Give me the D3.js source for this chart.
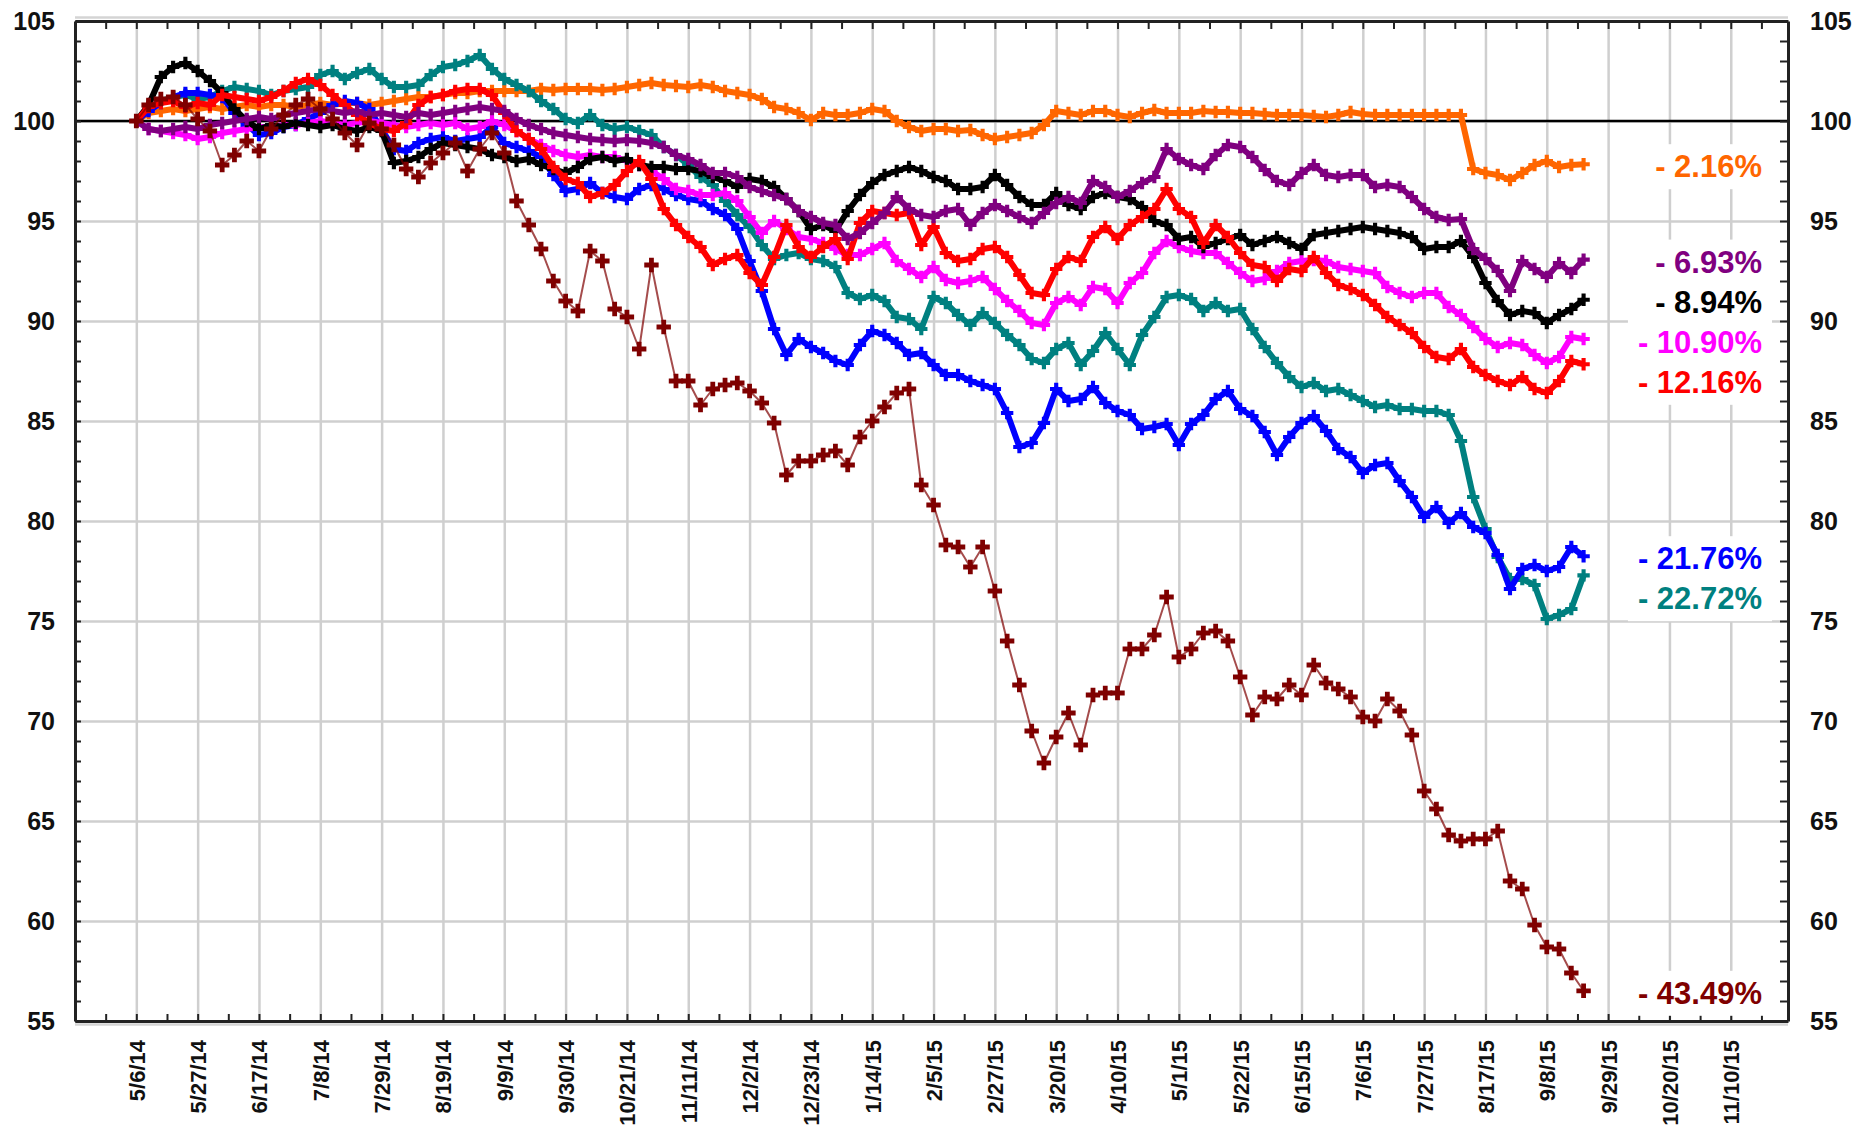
<!DOCTYPE html>
<meta charset="utf-8">
<script src="https://d3js.org/d3.v7.min.js"></script>
<style>
body { margin: 0; background: #fff; }
text { font-family: "Liberation Sans", Arial, sans-serif; }
.grid line { stroke: #cfcfcf; stroke-width: 2.5; }
.grid path { stroke-width: 0; }
.ticks line { stroke: #222; stroke-width: 2; }
.ticks path { stroke: #222; stroke-width: 3; }
.lbl path { stroke-width: 0; }
.lbl text { font-size: 25px; font-weight: bold; fill: #111; }
.dates text { font-size: 22px; font-weight: bold; fill: #111; }
</style>
<div id="chart"></div>
<script>

// x axis: one label every 15 trading days
var dateLabels = ["5/6/14","5/27/14","6/17/14","7/8/14","7/29/14","8/19/14","9/9/14","9/30/14",
  "10/21/14","11/11/14","12/2/14","12/23/14","1/14/15","2/5/15","2/27/15","3/20/15","4/10/15",
  "5/1/15","5/22/15","6/15/15","7/6/15","7/27/15","8/17/15","9/8/15","9/29/15","10/20/15","11/10/15"];
var yLabels = [55, 60, 65, 70, 75, 80, 85, 90, 95, 100, 105];

// values, one every 3 trading days (day 0 = 5/6/14)
var step = 3;

var orange = [
 100.0, 100.4, 100.5, 100.6, 100.5, 100.6, 100.7, 100.6, 100.7, 100.8,
 100.7, 100.8, 100.8, 100.7, 100.8, 100.9, 100.8, 100.9, 100.9, 100.8,
 100.9, 101.0, 101.1, 101.2, 101.2, 101.3, 101.4, 101.4, 101.5, 101.5,
 101.5, 101.5, 101.5, 101.6, 101.55, 101.6, 101.6, 101.6, 101.55, 101.6,
 101.7, 101.8, 101.9, 101.8, 101.75, 101.7, 101.8, 101.7, 101.5, 101.4,
 101.3, 101.1, 100.7, 100.6, 100.4, 100.05, 100.4, 100.3, 100.3, 100.4,
 100.6, 100.5, 100.0, 99.7, 99.5, 99.6, 99.6, 99.5, 99.55, 99.3,
 99.1, 99.2, 99.3, 99.4, 99.8, 100.5, 100.4, 100.3, 100.5, 100.5,
 100.3, 100.2, 100.4, 100.55, 100.4, 100.4, 100.4, 100.5, 100.45, 100.45,
 100.4, 100.4, 100.35, 100.3, 100.3, 100.3, 100.25, 100.2, 100.3, 100.45,
 100.35, 100.3, 100.3, 100.3, 100.3, 100.3, 100.3, 100.3, 100.3, 97.6,
 97.4, 97.3, 97.05, 97.4, 97.8, 98.0, 97.7, 97.8, 97.84
];

var teal = [
 100.0, 100.6, 101.0, 101.2, 101.3, 101.1, 101.2, 101.5, 101.7, 101.6,
 101.5, 101.3, 101.5, 101.6, 101.7, 102.3, 102.5, 102.1, 102.4, 102.6,
 102.1, 101.7, 101.7, 101.8, 102.3, 102.7, 102.8, 103.0, 103.3, 102.6,
 102.1, 101.8, 101.5, 101.0, 100.6, 100.1, 99.9, 100.3, 99.8, 99.6,
 99.7, 99.5, 99.3, 98.7, 98.3, 97.8, 97.2, 96.8, 96.0, 95.3,
 94.7, 93.8, 93.1, 93.3, 93.4, 93.1, 93.0, 92.7, 91.4, 91.1,
 91.3, 91.0, 90.2, 90.1, 89.6, 91.2, 90.9, 90.3, 89.8, 90.4,
 89.9, 89.3, 88.8, 88.1, 87.9, 88.6, 88.9, 87.8, 88.5, 89.4,
 88.6, 87.8, 89.3, 90.2, 91.2, 91.3, 91.1, 90.5, 90.9, 90.5,
 90.6, 89.6, 88.7, 87.9, 87.2, 86.7, 86.9, 86.5, 86.6, 86.3,
 86.0, 85.7, 85.8, 85.6, 85.6, 85.5, 85.5, 85.3, 84.0, 81.2,
 79.6, 78.2, 77.1, 77.1, 76.8, 75.1, 75.3, 75.6, 77.28
];

var blue = [
 100.0, 100.5, 100.9, 101.2, 101.4, 101.4, 101.3, 101.2, 100.4, 99.8,
 99.3, 99.4, 99.7, 99.8, 100.1, 100.4, 100.8, 101.0, 100.9, 100.6,
 99.6, 98.6, 98.5, 98.9, 99.1, 99.2, 99.0, 99.1, 99.2, 99.7,
 98.9, 98.7, 98.5, 98.2, 97.3, 96.5, 96.6, 96.9, 96.4, 96.2,
 96.1, 96.6, 96.8, 96.6, 96.3, 96.1, 96.0, 95.6, 95.3, 94.6,
 93.0, 91.5, 89.6, 88.3, 89.1, 88.7, 88.4, 88.0, 87.8, 88.8,
 89.5, 89.3, 88.9, 88.3, 88.4, 87.8, 87.3, 87.3, 87.0, 86.8,
 86.6, 85.4, 83.7, 83.9, 84.9, 86.6, 86.0, 86.1, 86.7, 85.9,
 85.5, 85.3, 84.6, 84.7, 84.85, 83.8, 84.85, 85.3, 86.1, 86.5,
 85.6, 85.25, 84.45, 83.3, 84.2, 84.9, 85.25, 84.5, 83.6, 83.2,
 82.4, 82.8, 82.9, 82.0, 81.2, 80.2, 80.7, 79.9, 80.4, 79.7,
 79.4, 78.3, 76.6, 77.6, 77.8, 77.5, 77.7, 78.7, 78.24
];

var magenta = [
 100.0, 99.6, 99.5, 99.4, 99.3, 99.1, 99.2, 99.4, 99.5, 99.6,
 99.7, 99.7, 99.8, 99.8, 99.9, 100.0, 99.9, 99.8, 99.9, 100.0,
 99.9, 99.8, 99.7, 99.8, 99.9, 99.8, 99.9, 99.6, 99.7, 100.0,
 99.8, 99.5, 99.1, 98.8, 98.5, 98.3, 98.2, 98.3, 98.2, 98.2,
 98.0, 97.8, 97.5, 97.1, 96.6, 96.5, 96.3, 96.3, 96.4, 96.0,
 95.2, 94.4, 95.0, 94.6, 94.2, 94.1, 93.9, 93.6, 93.3, 93.3,
 93.6, 93.9, 93.0, 92.6, 92.2, 92.7, 92.05, 91.9, 92.0, 92.2,
 91.6, 91.0, 90.5, 89.9, 89.8, 90.9, 91.2, 90.8, 91.7, 91.6,
 90.9, 91.9, 92.4, 93.4, 94.0, 93.7, 93.5, 93.4, 93.4, 92.9,
 92.4, 92.0, 92.1, 92.5, 92.9, 93.0, 93.05, 93.0, 92.7, 92.6,
 92.5, 92.4, 91.7, 91.4, 91.2, 91.4, 91.4, 90.7, 90.3, 89.7,
 89.1, 88.7, 88.9, 88.8, 88.3, 87.9, 88.2, 89.2, 89.1
];

var black = [
 100.0, 100.8, 102.2, 102.7, 102.9, 102.5, 102.0, 101.4, 100.6, 100.0,
 99.6, 99.8, 99.7, 99.9, 99.8, 99.7, 99.8, 99.6, 99.5, 99.7,
 99.5, 97.9, 98.0, 98.2, 98.6, 98.9, 98.8, 98.7, 98.6, 98.3,
 98.2, 98.0, 98.1, 97.8, 97.6, 97.4, 97.7, 98.1, 98.2, 98.0,
 98.1, 97.8, 97.7, 97.7, 97.6, 97.6, 97.5, 97.2, 97.0, 96.7,
 97.1, 97.0, 96.7, 96.1, 95.5, 94.6, 94.8, 94.5, 95.5, 96.3,
 96.9, 97.3, 97.5, 97.7, 97.5, 97.2, 97.0, 96.6, 96.6, 96.7,
 97.3, 96.8, 96.2, 95.8, 95.8, 96.4, 95.8, 95.6, 96.2, 96.4,
 96.2, 96.1, 95.7, 95.0, 94.8, 94.1, 94.2, 93.7, 93.9, 94.1,
 94.3, 93.8, 94.0, 94.2, 93.9, 93.6, 94.3, 94.4, 94.5, 94.6,
 94.7, 94.6, 94.5, 94.4, 94.2, 93.6, 93.7, 93.7, 94.0, 93.2,
 91.9, 91.0, 90.3, 90.5, 90.4, 89.9, 90.3, 90.6, 91.06
];

var red = [
 100.0, 100.7, 100.9, 101.0, 100.7, 100.9, 100.8, 101.3, 101.2, 101.1,
 101.0, 101.2, 101.5, 101.9, 102.1, 101.8, 101.3, 100.8, 100.3, 99.9,
 99.6, 99.5, 99.9, 100.8, 101.2, 101.3, 101.5, 101.6, 101.6, 101.3,
 100.4, 99.5, 99.1, 98.6, 97.7, 97.1, 96.9, 96.2, 96.4, 96.8,
 97.5, 98.0, 97.1, 95.6, 94.8, 94.2, 93.7, 92.8, 93.1, 93.3,
 92.4, 91.8, 93.2, 94.8, 93.7, 93.2, 93.7, 94.1, 93.1, 94.9,
 95.5, 95.4, 95.3, 95.4, 93.8, 94.7, 93.4, 93.0, 93.1, 93.6,
 93.7, 93.2, 92.3, 91.4, 91.3, 92.6, 93.2, 93.0, 94.2, 94.7,
 94.1, 94.8, 95.2, 95.6, 96.6, 95.6, 95.2, 93.9, 94.8, 94.2,
 93.4, 92.8, 92.7, 92.0, 92.6, 92.5, 93.2, 92.4, 91.8, 91.6,
 91.3, 90.8, 90.2, 89.8, 89.4, 88.7, 88.2, 88.1, 88.6, 87.7,
 87.3, 87.0, 86.8, 87.2, 86.6, 86.4, 87.0, 88.0, 87.84
];

var purple = [
 100.0, 99.6, 99.5, 99.6, 99.7, 99.6, 99.8, 99.9, 100.0, 100.1,
 100.2, 100.1, 100.3, 100.4, 100.5, 100.6, 100.5, 100.4, 100.5, 100.3,
 100.4, 100.3, 100.2, 100.4, 100.3, 100.4, 100.5, 100.6, 100.7, 100.6,
 100.5, 100.1, 99.8, 99.6, 99.4, 99.3, 99.2, 99.1, 99.05, 99.0,
 99.05, 99.0, 98.9, 98.7, 98.3, 98.1, 97.8, 97.4, 97.4, 97.2,
 96.7, 96.5, 96.3, 96.1, 95.5, 95.2, 94.9, 94.8, 94.1, 94.4,
 94.9, 95.4, 96.2, 95.6, 95.3, 95.2, 95.5, 95.6, 94.8, 95.4,
 95.8, 95.5, 95.2, 94.9, 95.4, 95.9, 96.2, 95.9, 97.0, 96.7,
 96.2, 96.5, 96.9, 97.2, 98.6, 98.1, 97.8, 97.6, 98.3, 98.8,
 98.7, 98.2, 97.55, 97.0, 96.8, 97.4, 97.8, 97.3, 97.2, 97.3,
 97.3, 96.7, 96.8, 96.7, 96.2, 95.6, 95.2, 95.05, 95.1, 93.6,
 93.1, 92.5, 91.5, 93.0, 92.6, 92.2, 92.9, 92.4, 93.07
];

var maroon = [
 100.0, 100.8, 101.1, 101.2, 100.8, 100.1, 99.5, 97.8, 98.3, 99.0,
 98.5, 99.6, 100.3, 100.8, 101.1, 100.6, 100.1, 99.4, 98.8, 99.9,
 99.6, 98.8, 97.6, 97.2, 97.9, 98.4, 98.9, 97.5, 98.6, 99.4,
 98.4, 96.0, 94.8, 93.6, 92.0, 91.0, 90.5, 93.5, 93.0, 90.6,
 90.2, 88.6, 92.8, 89.7, 87.0, 87.0, 85.8, 86.6, 86.8, 86.9,
 86.5, 85.9, 84.9, 82.3, 83.0, 83.0, 83.3, 83.5, 82.8, 84.2,
 85.0, 85.7, 86.4, 86.6, 81.8, 80.8, 78.8, 78.7, 77.7, 78.7,
 76.5, 74.0, 71.8, 69.5, 67.9, 69.2, 70.4, 68.8, 71.3, 71.4,
 71.4, 73.6, 73.6, 74.3, 76.2, 73.2, 73.6, 74.4, 74.5, 74.0,
 72.2, 70.3, 71.2, 71.1, 71.8, 71.3, 72.8, 71.9, 71.6, 71.2,
 70.2, 70.0, 71.1, 70.5, 69.3, 66.5, 65.6, 64.3, 64.0, 64.1,
 64.1, 64.5, 62.0, 61.6, 59.8, 58.7, 58.6, 57.4, 56.51
];

var changes = ["- 2.16%", "- 6.93%", "- 8.94%", "- 10.90%", "- 12.16%", "- 21.76%", "- 22.72%", "- 43.49%"];

// drawing order: first is at the bottom
var series = [
  {values: orange,  color: "#ff6600", label: changes[0], width: 6, marker: 85},
  {values: teal,    color: "#008080", label: changes[6], width: 6, marker: 85},
  {values: blue,    color: "#0000ff", label: changes[5], width: 6, marker: 85},
  {values: magenta, color: "#ff00ff", label: changes[3], width: 6, marker: 85},
  {values: black,   color: "#000000", label: changes[2], width: 6, marker: 85},
  {values: red,     color: "#ff0000", label: changes[4], width: 6, marker: 85},
  {values: purple,  color: "#800080", label: changes[1], width: 6, marker: 85},
  {values: maroon,  color: "#7f0000", label: changes[7], width: 2, marker: 115}
];
series.forEach(function(s){ if (s.values.length !== 119) console.log("length", s.label, s.values.length); });

// set the dimensions and margins of the graph
var margin = {top: 21, right: 72, bottom: 123, left: 75},
    width = 1860 - margin.left - margin.right,
    height = 1144 - margin.top - margin.bottom;

var svg = d3.select("#chart")
  .append("svg")
    .attr("width", width + margin.left + margin.right)
    .attr("height", height + margin.top + margin.bottom)
  .append("g")
    .attr("transform", "translate(" + margin.left + "," + margin.top + ")");

var x = d3.scaleLinear().domain([-15, 404]).range([0, width]);
var y = d3.scaleLinear().domain([55, 105]).range([height, 0]);

var majorDays = d3.range(0, 391, 15);
var halfDays = d3.range(-7.5, 400, 7.5);

// gridlines
svg.append("g")
    .attr("class", "grid")
    .attr("transform", "translate(0," + height + ")")
    .call(d3.axisBottom(x).tickValues(majorDays).tickSize(-height).tickFormat(""));
svg.append("g")
    .attr("class", "grid")
    .call(d3.axisLeft(y).tickValues(d3.range(60, 101, 5)).tickSize(-width).tickFormat(""));

// light band just outside top and bottom frame
[-3.5, height + 3.5].forEach(function(v){
  svg.append("line").attr("x1", 0).attr("x2", width).attr("y1", v).attr("y2", v)
    .attr("stroke", "#d4d4d4").attr("stroke-width", 2.5);
});

// 100 reference line
svg.append("line")
    .attr("x1", 0).attr("x2", width)
    .attr("y1", y(100)).attr("y2", y(100))
    .attr("stroke", "#000").attr("stroke-width", 2.5);

// frame with inward ticks
svg.append("g").attr("class", "ticks")
    .call(d3.axisLeft(y).tickValues(d3.range(55, 106)).tickSize(-6).tickSizeOuter(0).tickFormat(""));
svg.append("g").attr("class", "ticks")
    .attr("transform", "translate(" + width + ",0)")
    .call(d3.axisRight(y).tickValues(d3.range(55, 106)).tickSize(-8).tickSizeOuter(0).tickFormat(""));
svg.append("g").attr("class", "ticks")
    .call(d3.axisTop(x).tickValues(halfDays).tickSize(-8).tickSizeOuter(0).tickFormat(""));
svg.append("g").attr("class", "ticks")
    .attr("transform", "translate(0," + height + ")")
    .call(d3.axisBottom(x).tickValues(halfDays).tickSize(-7).tickSizeOuter(0).tickFormat(""));

// tick labels
svg.append("g").attr("class", "lbl")
    .call(d3.axisLeft(y).tickValues(yLabels).tickSize(0).tickPadding(20));
svg.append("g").attr("class", "lbl")
    .attr("transform", "translate(" + width + ",0)")
    .call(d3.axisRight(y).tickValues(yLabels).tickSize(0).tickPadding(22));
svg.append("g").attr("class", "lbl dates")
    .attr("transform", "translate(0," + height + ")")
    .call(d3.axisBottom(x).tickValues(majorDays).tickSize(0)
      .tickFormat(function(d, i){ return dateLabels[i]; }))
  .selectAll("text")
    .attr("text-anchor", "end")
    .attr("x", 0).attr("y", 0)
    .attr("dy", "0.36em")
    .attr("transform", "translate(0,19) rotate(-90)");

// series: line + cross markers
var line = d3.line()
    .x(function(d, i){ return x(i * step); })
    .y(function(d){ return y(d); });

series.forEach(function(s){
  var cross = d3.symbol().type(d3.symbolCross).size(s.marker);
  var g = svg.append("g");
  g.append("path")
      .datum(s.values)
      .attr("d", line)
      .attr("fill", "none")
      .attr("stroke", s.color)
      .attr("stroke-width", s.width)
      .attr("stroke-linejoin", "round")
      .attr("stroke-opacity", s.width < 3 ? 0.7 : 1);
  g.selectAll("path.pt")
    .data(s.values)
    .enter()
    .append("path")
      .attr("class", "pt")
      .attr("d", cross)
      .attr("transform", function(d, i){ return "translate(" + x(i * step) + "," + y(d) + ")"; })
      .attr("fill", s.color);
});

// end labels, stacked so they do not collide
var ordered = series.slice().sort(function(a, b){
  return b.values[b.values.length - 1] - a.values[a.values.length - 1];
});
var prev = -Infinity;
ordered.forEach(function(s){
  var yc = Math.max(y(s.values[s.values.length - 1]), prev + 40);
  prev = yc;
  var g = svg.append("g");
  var bg = g.append("rect").attr("fill", "#fff");
  var t = g.append("text")
      .attr("x", 1762 - margin.left)
      .attr("y", yc + 13)
      .attr("text-anchor", "end")
      .style("font-size", "31px")
      .style("font-weight", "bold")
      .attr("fill", s.color)
      .text(s.label);
  var b = t.node().getBBox();
  bg.attr("x", b.x - 10).attr("y", b.y - 5).attr("width", b.width + 20).attr("height", b.height + 10);
});
</script>
